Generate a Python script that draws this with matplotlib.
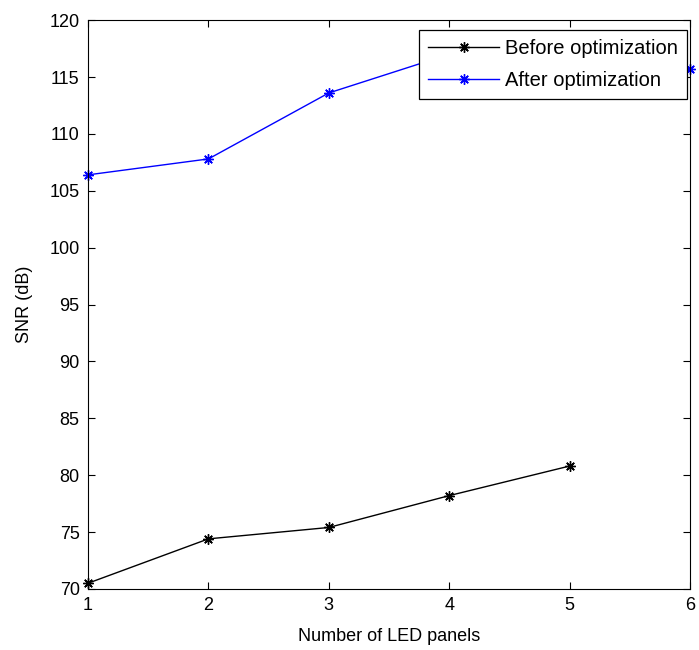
import matplotlib
matplotlib.use("Agg")
import matplotlib.pyplot as plt

# SNR versus number of LED panels
panels_before = [1, 2, 3, 4, 5]
snr_before = [70.5, 74.4, 75.4, 78.2, 80.8]

panels_after = [1, 2, 3, 4, 5, 6]
snr_after = [106.4, 107.8, 113.6, 117.0, 114.3, 115.7]

x_ticks = [1, 2, 3, 4, 5, 6]
y_ticks = list(range(70, 121, 5))

plt.rcParams["font.family"] = ["Liberation Sans", "DejaVu Sans"]

fig = plt.figure(figsize=(6.99, 6.5), dpi=100)
ax = fig.add_axes([0.126, 0.094, 0.861, 0.875])

asterisk = (8, 2, 0)
ax.plot(panels_before, snr_before, color="black", lw=1.0, marker=asterisk,
        markersize=7.5, markeredgewidth=1.0, clip_on=False,
        label="Before optimization")
ax.plot(panels_after, snr_after, color="blue", lw=1.0, marker=asterisk,
        markersize=7.5, markeredgewidth=1.0, clip_on=False,
        label="After optimization")

ax.set_xlim(1, 6)
ax.set_ylim(70, 120)
ax.set_xticks(x_ticks)
ax.set_yticks(y_ticks)
ax.tick_params(direction="in", top=True, right=True, length=5, width=0.8,
               labelsize=13, colors="black", pad=6)
for s in ax.spines.values():
    s.set_linewidth(0.8)

ax.set_xlabel("Number of LED panels", fontsize=13, labelpad=10)
ax.set_ylabel("SNR (dB)", fontsize=13, labelpad=12)

leg = ax.legend(loc="upper right", bbox_to_anchor=(0.995, 0.982), fontsize=14.5,
                fancybox=False, framealpha=1, edgecolor="black",
                borderaxespad=0, handlelength=3.5, handletextpad=0.3,
                borderpad=0.45, labelspacing=0.62)
leg.get_frame().set_linewidth(0.9)
leg.set_zorder(5)

fig.savefig("out.png", dpi=100)
